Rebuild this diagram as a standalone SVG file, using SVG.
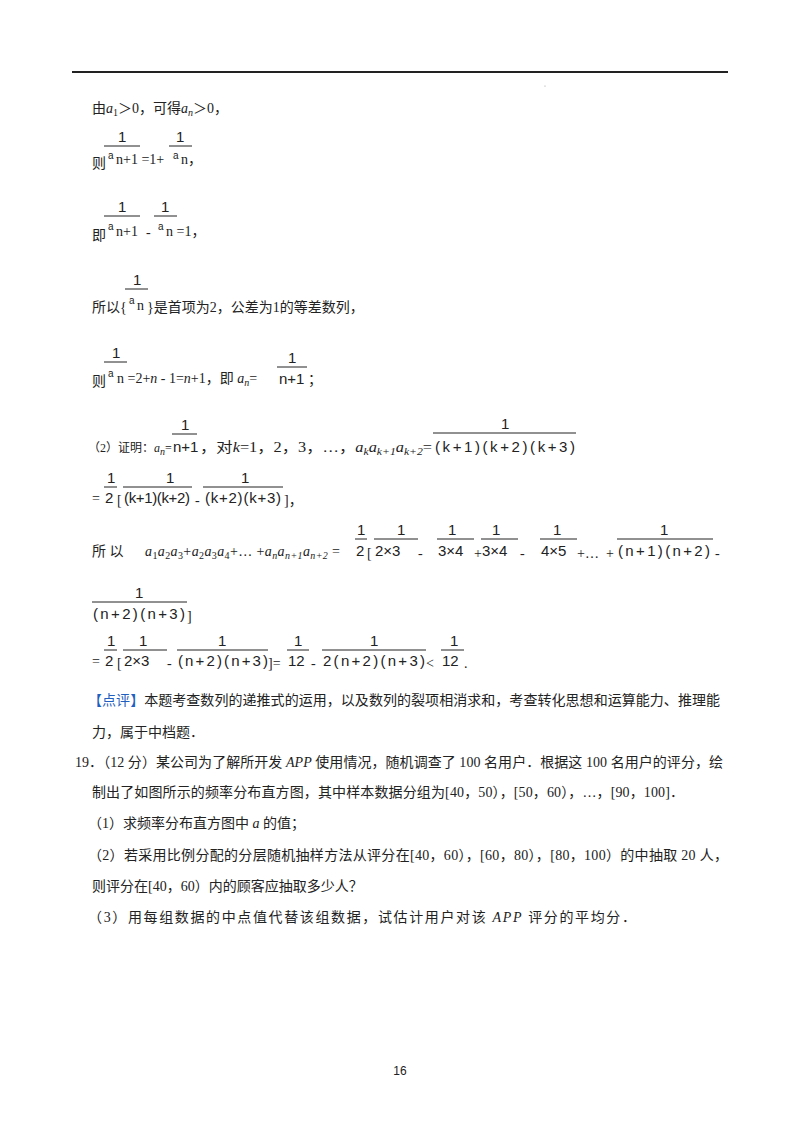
<svg xmlns="http://www.w3.org/2000/svg" width="800" height="1132" viewBox="0 0 800 1132">
<style>
text{font-family:"Liberation Serif","Noto Sans CJK SC",serif;font-size:14px;fill:#222}
.m{font-family:"Liberation Sans","Noto Sans CJK SC",sans-serif;font-size:15px}
.s{font-size:10px}
.i{font-style:italic}
.b{fill:#1f5fbf}
line.f{stroke:#222;stroke-width:1}
</style>
<rect width="800" height="1132" fill="#fff"/>
<line x1="72" y1="72" x2="728" y2="72" stroke="#222" stroke-width="2"/>
<circle cx="545" cy="86" r="0.6" fill="#999"/>
<g id="l1"><text x="92" y="113">由<tspan class="i">a</tspan><tspan class="s" dy="3">1</tspan><tspan dy="-3">＞0，可得</tspan><tspan class="i">a</tspan><tspan class="s i" dy="3">n</tspan><tspan dy="-3">＞0，</tspan></text></g>
<g id="l2">
<text class="m" x="118" y="142">1</text><line class="f" x1="104" y1="146" x2="140" y2="146"/>
<text class="m" x="176" y="142">1</text><line class="f" x1="169" y1="146" x2="192" y2="146"/>
<text x="92" y="168">则</text><text class="m s" x="108" y="159">a</text><text x="116" y="164">n+1 =1+</text>
<text class="m s" x="173" y="159">a</text><text x="181" y="164">n，</text>
</g>
<g id="l3">
<text class="m" x="118" y="212">1</text><line class="f" x1="104" y1="216" x2="140" y2="216"/>
<text class="m" x="161" y="212">1</text><line class="f" x1="154" y1="216" x2="177" y2="216"/>
<text x="92" y="240">即</text><text class="m s" x="108" y="230">a</text><text x="116" y="236">n+1</text>
<text x="146" y="237">-</text><text class="m s" x="158" y="230">a</text><text x="166" y="236">n =1，</text>
</g>
<g id="l4">
<text class="m" x="133" y="285">1</text><line class="f" x1="125" y1="289" x2="148" y2="289"/>
<text x="92" y="312">所以{</text><text class="m s" x="129" y="304">a</text><text x="137" y="310">n</text><text x="147" y="312">}是首项为2，公差为1的等差数列，</text>
</g>
<g id="l5">
<text class="m" x="112" y="358">1</text><line class="f" x1="104" y1="362" x2="127" y2="362"/>
<text x="92" y="386">则</text><text class="m s" x="108" y="377">a</text><text x="117" y="383">n =2+<tspan class="i">n</tspan> - 1=<tspan class="i">n</tspan>+1，即 <tspan class="i">a</tspan><tspan class="s i" dy="3">n</tspan><tspan dy="-3">=</tspan></text>
<text class="m" x="288" y="363">1</text><line class="f" x1="277" y1="367" x2="307" y2="367"/>
<text class="m" x="279" y="384">n+1</text><text x="308" y="384">；</text>
</g>
<g id="l6">
<text x="88" y="452" style="font-size:12px">（2）证明：<tspan class="i">a</tspan><tspan class="s i" dy="3">n</tspan><tspan dy="-3">=</tspan></text>
<text class="m" x="181" y="430">1</text><line class="f" x1="172" y1="434" x2="197" y2="434"/>
<text class="m" x="173" y="452">n+1</text>
<text x="200" y="452" textLength="232" lengthAdjust="spacingAndGlyphs">，对<tspan class="i">k</tspan>=1，2，3，…，<tspan class="i">a</tspan><tspan class="s i" dy="3">k</tspan><tspan class="i" dy="-3">a</tspan><tspan class="s i" dy="3">k+1</tspan><tspan class="i" dy="-3">a</tspan><tspan class="s i" dy="3">k+2</tspan><tspan dy="-3">=</tspan></text>
<text class="m" x="501" y="429">1</text><line class="f" x1="433" y1="433" x2="576" y2="433"/>
<text class="m" x="435" y="452" textLength="140">(k+1)(k+2)(k+3)</text>
</g>
<g id="l7">
<text class="m" x="107" y="483">1</text><line class="f" x1="104" y1="487" x2="117" y2="487"/>
<text x="92" y="503">=</text><text class="m" x="105" y="503">2</text><text x="117" y="505">[</text>
<text class="m" x="166" y="483">1</text><line class="f" x1="123" y1="487" x2="192" y2="487"/>
<text class="m" x="124" y="503" textLength="66">(k+1)(k+2)</text><text x="195" y="505">-</text>
<text class="m" x="241" y="483">1</text><line class="f" x1="203" y1="487" x2="283" y2="487"/>
<text class="m" x="205" y="503" textLength="76">(k+2)(k+3)</text><text x="284" y="505">]，</text>
</g>
<g id="l8">
<text x="92" y="556">所  以</text>
<text x="145" y="556" textLength="195"><tspan class="i">a</tspan><tspan class="s" dy="3">1</tspan><tspan class="i" dy="-3">a</tspan><tspan class="s" dy="3">2</tspan><tspan class="i" dy="-3">a</tspan><tspan class="s" dy="3">3</tspan><tspan dy="-3">+</tspan><tspan class="i">a</tspan><tspan class="s" dy="3">2</tspan><tspan class="i" dy="-3">a</tspan><tspan class="s" dy="3">3</tspan><tspan class="i" dy="-3">a</tspan><tspan class="s" dy="3">4</tspan><tspan dy="-3">+…  +</tspan><tspan class="i">a</tspan><tspan class="s i" dy="3">n</tspan><tspan class="i" dy="-3">a</tspan><tspan class="s i" dy="3">n+1</tspan><tspan class="i" dy="-3">a</tspan><tspan class="s i" dy="3">n+2</tspan><tspan dy="-3">  =</tspan></text>
<text class="m" x="357" y="535">1</text><line class="f" x1="355" y1="539" x2="367" y2="539"/>
<text class="m" x="356" y="556">2</text><text x="367" y="558">[</text>
<text class="m" x="397" y="535">1</text><line class="f" x1="374" y1="539" x2="418" y2="539"/>
<text class="m" x="375" y="556">2×3</text><text x="418" y="558">-</text>
<text class="m" x="448" y="535">1</text><line class="f" x1="437" y1="539" x2="474" y2="539"/>
<text class="m" x="438" y="556">3×4</text><text x="474" y="558">+</text>
<text class="m" x="492" y="535">1</text><line class="f" x1="481" y1="539" x2="518" y2="539"/>
<text class="m" x="482" y="556">3×4</text><text x="520" y="558">-</text>
<text class="m" x="553" y="535">1</text><line class="f" x1="540" y1="539" x2="577" y2="539"/>
<text class="m" x="541" y="556">4×5</text><text x="577" y="558">+…</text>
<text x="606" y="558">+</text>
<text class="m" x="660" y="535">1</text><line class="f" x1="617" y1="539" x2="713" y2="539"/>
<text class="m" x="618" y="556" textLength="92">(n+1)(n+2)</text><text x="715" y="558">-</text>
</g>
<g id="l9">
<text class="m" x="135" y="598">1</text><line class="f" x1="92" y1="602" x2="187" y2="602"/>
<text class="m" x="93" y="619" textLength="92">(n+2)(n+3)</text><text x="187" y="621">]</text>
</g>
<g id="l10">
<text class="m" x="107" y="646">1</text><line class="f" x1="104" y1="650" x2="117" y2="650"/>
<text x="92" y="666">=</text><text class="m" x="105" y="666">2</text><text x="117" y="668">[</text>
<text class="m" x="139" y="646">1</text><line class="f" x1="123" y1="650" x2="167" y2="650"/>
<text class="m" x="124" y="666">2×3</text><text x="167" y="668">-</text>
<text class="m" x="218" y="646">1</text><line class="f" x1="177" y1="650" x2="268" y2="650"/>
<text class="m" x="178" y="666" textLength="90">(n+2)(n+3)</text><text x="268" y="668">]=</text>
<text class="m" x="294" y="646">1</text><line class="f" x1="287" y1="650" x2="309" y2="650"/>
<text class="m" x="288" y="666">12</text><text x="311" y="668">-</text>
<text class="m" x="370" y="646">1</text><line class="f" x1="322" y1="650" x2="426" y2="650"/>
<text class="m" x="323" y="666" textLength="102">2(n+2)(n+3)</text><text x="426" y="668">&lt;</text>
<text class="m" x="450" y="646">1</text><line class="f" x1="441" y1="650" x2="464" y2="650"/>
<text class="m" x="442" y="666">12</text><text x="464" y="668">.</text>
</g>
<g id="p1"><text x="88" y="705" textLength="632"><tspan class="b">【点评】</tspan>本题考查数列的递推式的运用，以及数列的裂项相消求和，考查转化思想和运算能力、推理能</text>
<text x="92" y="737">力，属于中档题．</text></g>
<g id="q19">
<text x="75" y="767" textLength="648">19．（12 分）某公司为了解所开发 <tspan class="i">APP</tspan> 使用情况，随机调查了 100 名用户．根据这 100 名用户的评分，绘</text>
<text x="92" y="797" textLength="592">制出了如图所示的频率分布直方图，其中样本数据分组为[40，50），[50，60），…，[90，100]．</text>
<text x="88" y="828">（1）求频率分布直方图中 <tspan class="i">a</tspan> 的值；</text>
<text x="88" y="860" textLength="640">（2）若采用比例分配的分层随机抽样方法从评分在[40，60），[60，80），[80，100）的中抽取 20 人，</text>
<text x="92" y="891">则评分在[40，60）内的顾客应抽取多少人？</text>
<text x="88" y="922" textLength="548">（3）用每组数据的中点值代替该组数据，试估计用户对该 <tspan class="i">APP</tspan> 评分的平均分．</text>
</g>
<text x="400" y="1075" text-anchor="middle" style="font-family:'Liberation Sans',sans-serif;font-size:12px">16</text>
</svg>
